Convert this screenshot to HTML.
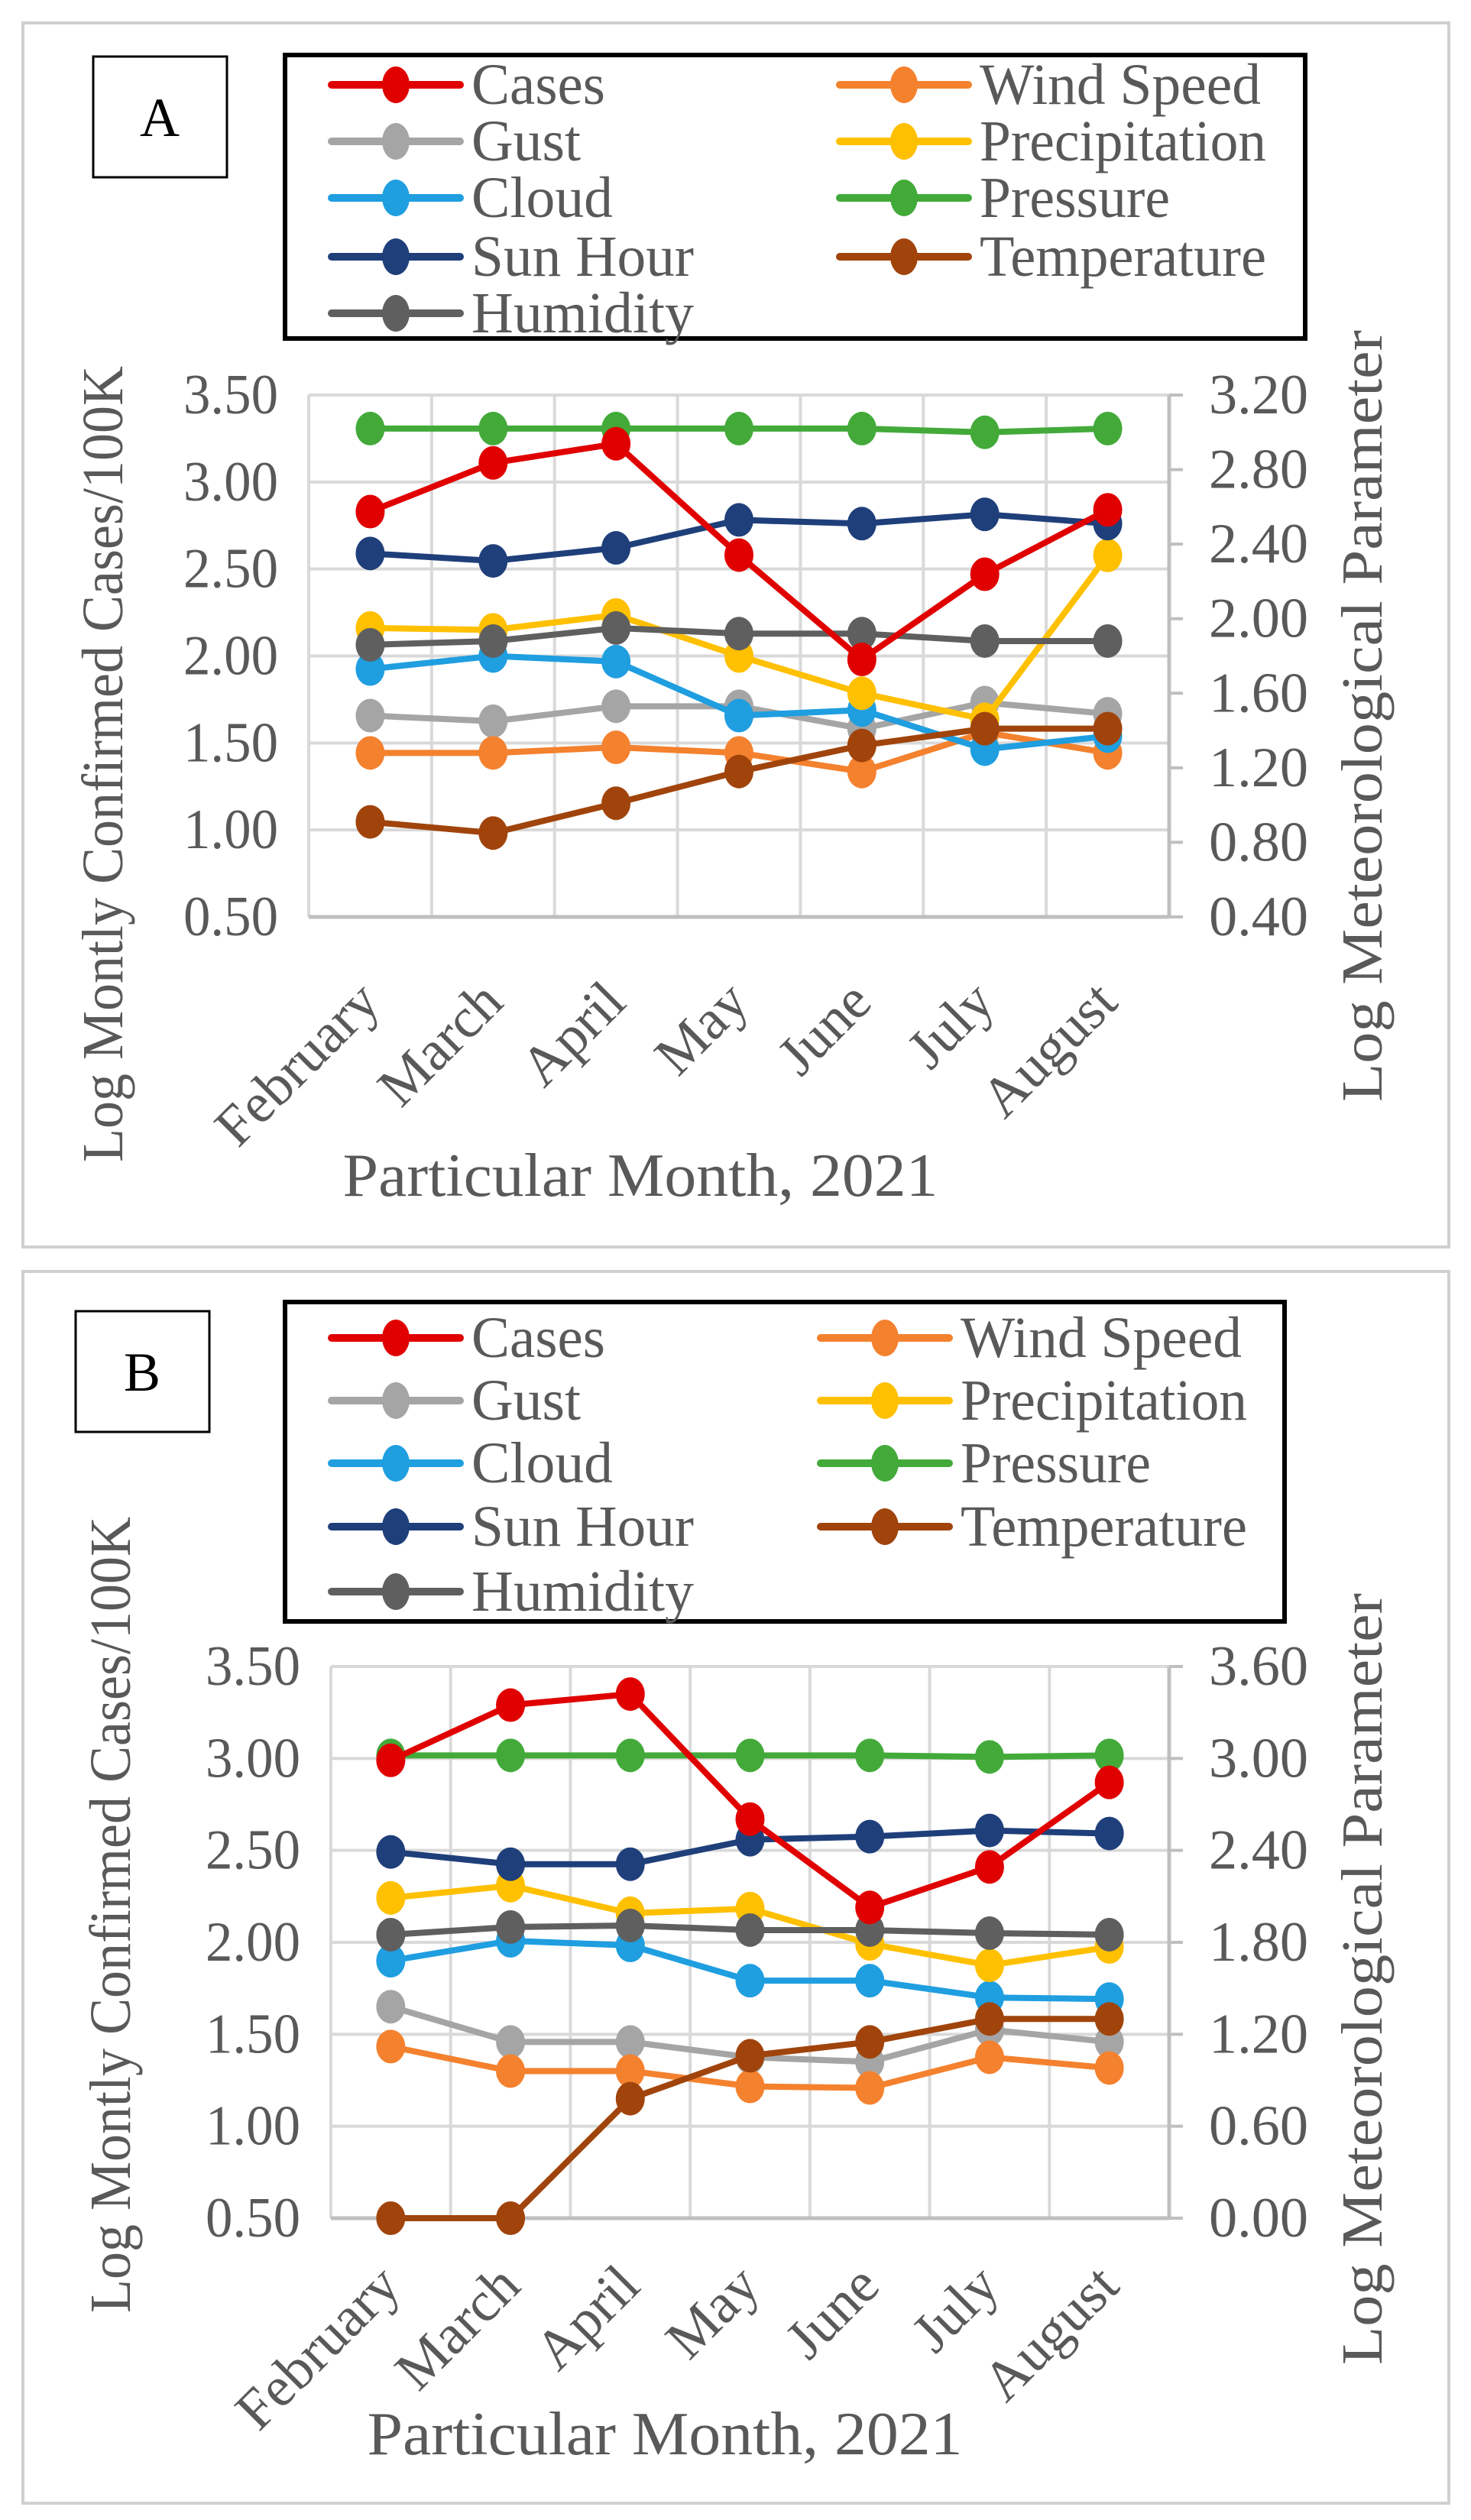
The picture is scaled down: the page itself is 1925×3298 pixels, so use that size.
<!DOCTYPE html>
<html><head><meta charset="utf-8"><title>Log monthly cases vs meteorological parameters</title>
<style>html,body{margin:0;padding:0;background:#fff;}svg{display:block;}text{font-family:"Liberation Serif",serif;}</style>
</head><body>
<svg id="fig" width="1925" height="3298" viewBox="0 0 1925 3298" xmlns="http://www.w3.org/2000/svg"></svg>
<script>
const months = ["February","March","April","May","June","July","August"];
const seriesNames = ["Cases","Wind Speed","Gust","Precipitation","Cloud","Pressure","Sun Hour","Temperature","Humidity"];
const seriesColors = ["#e00000","#f4812e","#a5a5a5","#ffc000","#1f9ee0","#43aa3a","#1f3f7a","#a0440c","#5f5f5f"];
// Panel A values (Cases on left axis, others on right axis)
const casesA = [2.83,3.11,3.22,2.58,1.98,2.47,2.84];
const windA = [1.28,1.28,1.31,1.28,1.18,1.39,1.28];
const gustA = [1.48,1.45,1.53,1.53,1.41,1.55,1.49];
const precipA = [1.95,1.94,2.02,1.80,1.60,1.46,2.34];
const cloudA = [1.73,1.80,1.77,1.48,1.51,1.30,1.37];
const pressureA = [3.02,3.02,3.02,3.02,3.02,3.00,3.02];
const sunA = [2.35,2.31,2.38,2.53,2.51,2.56,2.51];
const tempA = [0.91,0.85,1.01,1.18,1.32,1.41,1.41];
const humidA = [1.86,1.88,1.95,1.92,1.92,1.88,1.88];
const leftTicksA = ["0.50","1.00","1.50","2.00","2.50","3.00","3.50"];
const rightTicksA = ["0.40","0.80","1.20","1.60","2.00","2.40","2.80","3.20"];
// Panel B values
const casesB = [2.99,3.29,3.35,2.67,2.19,2.41,2.87];
const windB = [1.12,0.96,0.96,0.86,0.85,1.05,0.98];
const gustB = [1.38,1.15,1.15,1.05,1.02,1.23,1.15];
const precipB = [2.09,2.17,1.99,2.02,1.79,1.65,1.77];
const cloudB = [1.68,1.81,1.78,1.55,1.55,1.44,1.43];
const pressureB = [3.02,3.02,3.02,3.02,3.02,3.01,3.02];
const sunB = [2.39,2.31,2.31,2.47,2.49,2.53,2.51];
const tempB = [0.00,0.00,0.78,1.06,1.15,1.30,1.30];
const humidB = [1.85,1.90,1.91,1.88,1.88,1.86,1.85];
const leftTicksB = ["0.50","1.00","1.50","2.00","2.50","3.00","3.50"];
const rightTicksB = ["0.00","0.60","1.20","1.80","2.40","3.00","3.60"];

const NS="http://www.w3.org/2000/svg";
const svg=document.getElementById('fig');
function mk(tag,attrs,parent,txt){const e=document.createElementNS(NS,tag);for(const k in attrs)e.setAttribute(k,attrs[k]);if(txt!==undefined)e.textContent=txt;(parent||svg).appendChild(e);return e;}

function panel(cfg){
  const g=mk('g',{});
  
  
  const frame=mk('rect',{x:cfg.box[0],y:cfg.box[1],width:cfg.box[2],height:cfg.box[3],fill:'#fff',stroke:'#d0d0d0','stroke-width':4},g);
  
  
  const lb=mk('g',{},g);
  
  
  mk('rect',{x:cfg.lab[0],y:cfg.lab[1],width:175,height:158,fill:'#fff',stroke:'#000','stroke-width':3},lb);
  mk('text',{x:cfg.lab[0]+87,y:cfg.lab[1]+104,'font-size':72,'text-anchor':'middle',fill:'#000'},lb,cfg.id);
  const L=cfg.left,R=cfg.right,T=cfg.top,B=cfg.bottom;
  const cw=(R-L)/7;
  const xOf=i=>L+cw*(i+0.5);
  const yL=v=>B-(v-cfg.lmin)/(cfg.lmax-cfg.lmin)*(B-T);
  const yR=v=>B-(v-cfg.rmin)/(cfg.rmax-cfg.rmin)*(B-T);
  const grid=mk('g',{},g);
  
  
  cfg.lt.forEach((t,i)=>{const y=yL(parseFloat(t));mk('line',{x1:L,x2:R,y1:y,y2:y,stroke:'#d9d9d9','stroke-width':4},grid);});
  for(let i=1;i<7;i++){mk('line',{x1:L+cw*i,x2:L+cw*i,y1:T,y2:B,stroke:'#d9d9d9','stroke-width':4},grid);}
  mk('line',{x1:L,x2:L,y1:T,y2:B,stroke:'#d9d9d9','stroke-width':4},grid);
  mk('line',{x1:L,x2:R,y1:B,y2:B,stroke:'#bfbfbf','stroke-width':5},grid);
  mk('line',{x1:R,x2:R,y1:T,y2:B,stroke:'#bfbfbf','stroke-width':5},grid);
  cfg.rt.forEach(t=>{const y=yR(parseFloat(t));mk('line',{x1:R,x2:R+18,y1:y,y2:y,stroke:'#bfbfbf','stroke-width':4},grid);});
  const lax=mk('g',{},g);
  
  
  cfg.lt.forEach(t=>{mk('text',{x:L-40,y:yL(parseFloat(t))+24,'font-size':74,'text-anchor':'end',fill:'#595959',textLength:124,lengthAdjust:'spacingAndGlyphs'},lax,t);});
  const rax=mk('g',{},g);
  
  
  cfg.rt.forEach(t=>{mk('text',{x:R+52,y:yR(parseFloat(t))+24,'font-size':74,'text-anchor':'start',fill:'#595959',textLength:130,lengthAdjust:'spacingAndGlyphs'},rax,t);});
  const xax=mk('g',{},g);
  
  
  months.forEach((m,i)=>{const ax=xOf(i)+16,ay=B+cfg.mOff;mk('text',{x:ax,y:ay,'font-size':74,'text-anchor':'end',fill:'#595959',transform:`rotate(-45 ${ax} ${ay})`},xax,m);});
  const tl=mk('text',{x:0,y:0,'font-size':76,'text-anchor':'middle',fill:'#595959',textLength:cfg.ltLen,lengthAdjust:'spacingAndGlyphs',transform:`translate(${cfg.ltX} ${cfg.ltY}) rotate(-90)`},g,'Log Montly Confirmed Cases/100K');
  
  
  const tr=mk('text',{x:0,y:0,'font-size':76,'text-anchor':'middle',fill:'#595959',textLength:1010,lengthAdjust:'spacingAndGlyphs',transform:`translate(${cfg.rtX} ${cfg.rtY}) rotate(-90)`},g,'Log Meteorological Parameter');
  
  
  const tx=mk('text',{x:cfg.xtX,y:cfg.xtY,'font-size':80,'text-anchor':'middle',fill:'#595959',textLength:779,lengthAdjust:'spacingAndGlyphs'},g,'Particular Month, 2021');
  
  
  const order=[2,1,4,3,8,7,6,5,0];
  order.forEach(si=>{
    const vals=cfg.data[si];const sc=si===0?yL:yR;
    const sg=mk('g',{},g);
    
    
    const pts=vals.map((v,i)=>xOf(i)+','+sc(v)).join(' ');
    mk('polyline',{points:pts,fill:'none',stroke:seriesColors[si],'stroke-width':8,'stroke-linejoin':'round'},sg);
    vals.forEach((v,i)=>{
      const p=mk('ellipse',{cx:xOf(i),cy:sc(v),rx:19,ry:22,fill:seriesColors[si]},sg);
      
      
    });
  });
  const lg=mk('g',{},g);
  
  
  const lgb=cfg.leg;
  mk('rect',{x:lgb[0],y:lgb[1],width:lgb[2],height:lgb[3],fill:'#fff',stroke:'#000','stroke-width':6},lg);
  const lens=[175,368,143,375,185,249,291,375,291];
  seriesNames.forEach((n,i)=>{
    const col=i%2,row=Math.floor(i/2);
    const y=cfg.legRows[row];
    const lx=col===0?434:cfg.legX2;
    const e=mk('g',{},lg);
    
    
    mk('line',{x1:lx,x2:lx+168,y1:y,y2:y,stroke:seriesColors[i],'stroke-width':10,'stroke-linecap':'round'},e);
    mk('ellipse',{cx:lx+84,cy:y,rx:18,ry:24,fill:seriesColors[i]},e);
    mk('text',{x:lx+183,y:y+25,'font-size':76,fill:'#595959',textLength:lens[i],lengthAdjust:'spacingAndGlyphs'},e,n);
  });
}

panel({id:'A',box:[30,30,1866,1602],lab:[122,74],left:404,right:1530,top:517,bottom:1200,
  lmin:0.5,lmax:3.5,rmin:0.4,rmax:3.2,lt:leftTicksA,rt:rightTicksA,mOff:115,
  ltX:160,ltY:1000,ltLen:1042,rtX:1808,rtY:937,xtX:838,xtY:1565,
  leg:[373,72,1335,371],legRows:[111,185,259,336,410],legX2:1099,
  data:[casesA,windA,gustA,precipA,cloudA,pressureA,sunA,tempA,humidA]});
panel({id:'B',box:[30,1664,1866,1612],lab:[99,1716],left:433,right:1530,top:2181,bottom:2903,
  lmin:0.5,lmax:3.5,rmin:0,rmax:3.6,lt:leftTicksB,rt:rightTicksB,mOff:92,
  ltX:170,ltY:2506,ltLen:1042,rtX:1808,rtY:2590,xtX:870,xtY:3212,
  leg:[373,1704,1308,418],legRows:[1751,1833,1915,1998,2083],legX2:1074,
  data:[casesB,windB,gustB,precipB,cloudB,pressureB,sunB,tempB,humidB]});
</script>
</body></html>
